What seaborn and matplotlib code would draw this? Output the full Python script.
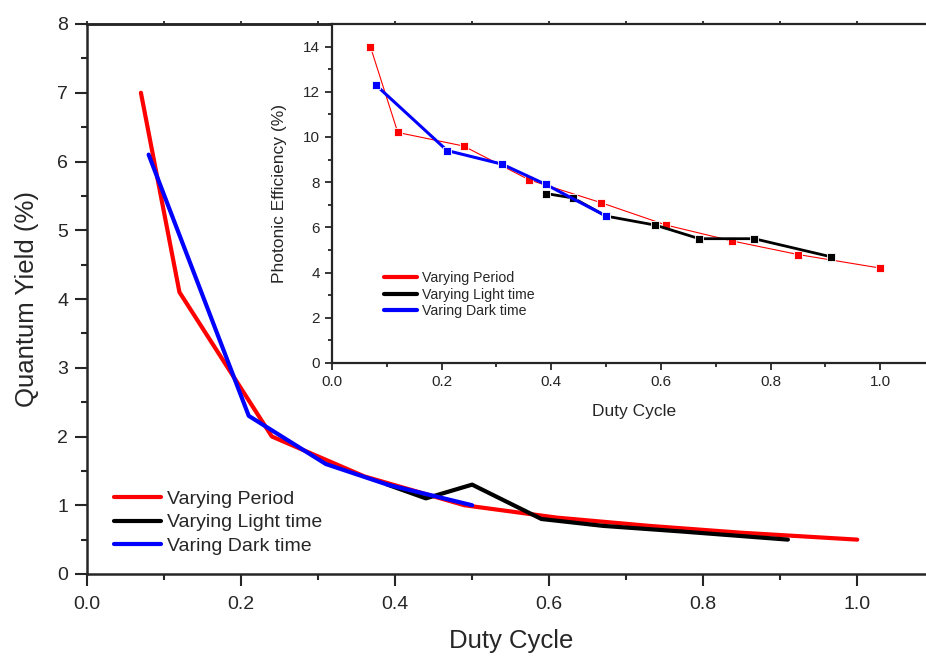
import pandas as pd
import seaborn as sns
import matplotlib.pyplot as plt
from matplotlib.ticker import MultipleLocator

# Data
period_duty = [0.07, 0.12, 0.24, 0.36, 0.49, 0.61, 0.73, 0.85, 1.0]
period_qy = [7.0, 4.1, 2.0, 1.42, 1.0, 0.82, 0.70, 0.60, 0.50]
period_pe = [14.0, 10.2, 9.6, 8.1, 7.1, 6.1, 5.4, 4.8, 4.2]

light_duty = [0.39, 0.44, 0.50, 0.59, 0.67, 0.77, 0.91]
light_qy = [1.3, 1.1, 1.3, 0.8, 0.7, 0.62, 0.5]
light_pe = [7.5, 7.3, 6.5, 6.1, 5.5, 5.5, 4.7]

dark_duty = [0.08, 0.21, 0.31, 0.39, 0.50]
dark_qy = [6.1, 2.3, 1.6, 1.3, 1.0]
dark_pe = [12.3, 9.4, 8.8, 7.9, 6.5]

labels = ["Varying Period", "Varying Light time", "Varing Dark time"]
colors = ["#ff0000", "#000000", "#0000ff"]

sns.set_style("ticks")
plt.rcParams['font.family'] = ['Liberation Sans', 'DejaVu Sans']

W, H = 926, 658
fig = plt.figure(figsize=(W / 100, H / 100), dpi=100)
fmt = plt.FuncFormatter(lambda v, p: f"{v:.1f}")

# main axes
ax = fig.add_axes([87 / W, (H - 574) / H, (W - 87) / W + 0.01, (574 - 24) / H])
series = [(period_duty, period_qy), (light_duty, light_qy), (dark_duty, dark_qy)]
for (x, y), lab, c in zip(series, labels, colors):
    df = pd.DataFrame({"Duty Cycle": x, "QY": y})
    sns.lineplot(data=df, x="Duty Cycle", y="QY", ax=ax, color=c, lw=3,
                 sort=False, label=lab)
ax.set_xlim(0, (W + 9 - 87) / 770)
ax.set_ylim(0, 8)
ax.xaxis.set_major_locator(MultipleLocator(0.2))
ax.xaxis.set_minor_locator(MultipleLocator(0.1))
ax.yaxis.set_major_locator(MultipleLocator(1))
ax.yaxis.set_minor_locator(MultipleLocator(0.5))
ax.xaxis.set_major_formatter(fmt)
ax.tick_params(axis='both', which='both', direction='out', width=1.5,
               labelsize=14)
ax.tick_params(which='major', length=8.5)
ax.tick_params(which='minor', length=4)
ax.tick_params(axis='x', pad=7)
ax.tick_params(axis='y', pad=5)
ax.spines['right'].set_visible(False)
for s in ['left', 'bottom', 'top']:
    ax.spines[s].set_linewidth(1.8)

# short ticks along the top edge
top = ax.secondary_xaxis('top')
top.xaxis.set_major_locator(MultipleLocator(0.1))
top.tick_params(direction='out', length=2.5, width=1.3, labeltop=False)
top.spines['top'].set_linewidth(1.8)

ax.set_xlabel("Duty Cycle", fontsize=18.5, labelpad=12)
ax.set_ylabel("Quantum Yield (%)", fontsize=18.5, labelpad=13)
ax.legend(loc='upper left', bbox_to_anchor=(0.0225, 0.167), frameon=False,
          fontsize=14, handlelength=2.4, handletextpad=0.35,
          labelspacing=0.32, borderaxespad=0)

# inset axes
ins = fig.add_axes([332 / W, (H - 363) / H, (W - 332) / W + 0.01, (363 - 24) / H])
series_in = [(period_duty, period_pe, 0.8), (light_duty, light_pe, 2.0),
             (dark_duty, dark_pe, 2.2)]
for (x, y, lw), lab, c in zip(series_in, labels, colors):
    df = pd.DataFrame({"Duty Cycle": x, "PE": y})
    sns.lineplot(data=df, x="Duty Cycle", y="PE", ax=ins, color=c, lw=lw,
                 marker='s', markersize=6, markeredgecolor='white',
                 markeredgewidth=0.6, sort=False)
ins.set_xlim(0, (W + 9 - 332) / 548)
ins.set_ylim(0, 15)
ins.xaxis.set_major_locator(MultipleLocator(0.2))
ins.xaxis.set_minor_locator(MultipleLocator(0.1))
ins.yaxis.set_major_locator(MultipleLocator(2))
ins.yaxis.set_minor_locator(MultipleLocator(1))
ins.xaxis.set_major_formatter(fmt)
ins.tick_params(axis='both', which='both', direction='out', width=1.3,
                labelsize=11)
ins.tick_params(which='major', length=5)
ins.tick_params(which='minor', length=3)
ins.spines['right'].set_visible(False)
for s in ['left', 'bottom', 'top']:
    ins.spines[s].set_linewidth(1.6)
ins.set_xlabel("Duty Cycle", fontsize=12.5, labelpad=11)
ins.set_ylabel("Photonic Efficiency (%)", fontsize=12.5, labelpad=12)

# legend with plain line handles
handles = [plt.Line2D([], [], color=c, lw=3) for c in colors]
ins.legend(handles, labels, loc='upper left', bbox_to_anchor=(0.076, 0.288),
           frameon=False, fontsize=10.2, handlelength=2.36, handletextpad=0.35,
           labelspacing=0.18, borderaxespad=0)

fig.savefig("out.png", dpi=100)
